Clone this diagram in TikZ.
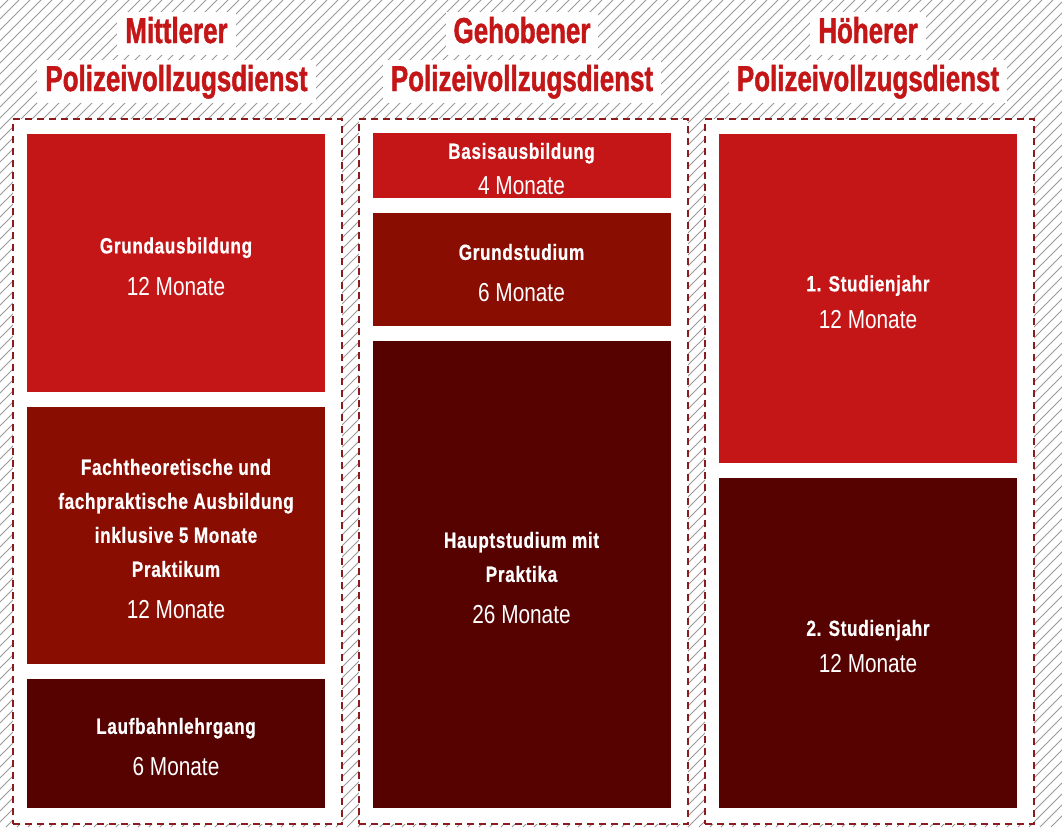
\documentclass[tikz,border=0pt]{standalone}
\usepackage{fontspec}
\newfontfamily\headfont{Liberation Sans}[FakeStretch=0.72, FakeBold=1.2]
\newfontfamily\boxfont{Liberation Sans}[FakeStretch=0.8]
\newfontfamily\titlefont{Liberation Sans}[FakeStretch=0.78, LetterSpace=3, FakeBold=0.6]
\usepackage{xcolor}
\usetikzlibrary{positioning}
\definecolor{polred}{HTML}{C41517}
\definecolor{polbrown}{HTML}{8A0D02}
\definecolor{poldark}{HTML}{560200}
\definecolor{dashred}{HTML}{8E1B1B}
\newcommand{\monate}[1]{{\fontsize{26}{34}\selectfont #1}}
\newcommand{\stitle}[1]{{\titlefont\bfseries\rule{0pt}{23pt}#1}}

\begin{document}
\begin{tikzpicture}[x=1pt, y=-1pt,
  node distance=15pt,
  hatch/.style={draw=gray!80, line width=0.9pt},
  frame/.style={draw=dashred, fill=white, dash pattern=on 7pt off 5pt, line width=2pt, anchor=north west, minimum width=329pt, minimum height=705pt},
  head/.style={fill=white, text=polred, font=\headfont\bfseries\fontsize{36}{40}\selectfont, inner xsep=8pt, inner ysep=4pt, text height=27pt, text depth=8pt},
  stage/.style={minimum width=298pt, inner sep=0pt, outer sep=0pt, anchor=north, text=white, align=center, font=\boxfont\fontsize{22}{34}\selectfont}
]
  \useasboundingbox (0,0) rectangle (1062,827);
  % hatched background
  \begin{scope}
    \clip (0,0) rectangle (1062,827);
    \foreach \i in {-830,-819,...,1062}
      \draw[hatch] (\i,827) -- ++(827,-827);
  \end{scope}

  % columns
  \node[frame] (mittel) at (12,118) {};
  \node[frame] (gehoben) at (358,118) {};
  \node[frame] (hoeher) at (704,118) {};

  % headings
  \node[head] (mittelA) at (176.5,33.5) {Mittlerer};
  \node[head] (mittelB) at (176.5,81.5) {Polizeivollzugsdienst};
  \node[head] (gehobenA) at (522,33.5) {Gehobener};
  \node[head] (gehobenB) at (522,81.5) {Polizeivollzugsdienst};
  \node[head] (hoeherA) at (868,33.5) {Höherer};
  \node[head] (hoeherB) at (868,81.5) {Polizeivollzugsdienst};

  % Mittlerer Dienst
  \node[stage, fill=polred, minimum height=258pt] (grund) at (176,134)
    {\stitle{Grundausbildung}\\[8pt]\monate{12 Monate}};
  \node[stage, fill=polbrown, minimum height=257pt, below=of grund] (fach)
    {\stitle{Fachtheoretische und}\\\stitle{fachpraktische Ausbildung}\\\stitle{inklusive 5 Monate}\\\stitle{Praktikum}\\[8pt]\monate{12 Monate}};
  \node[stage, fill=poldark, minimum height=129pt, below=of fach] (laufbahn)
    {\stitle{Laufbahnlehrgang}\\[8pt]\monate{6 Monate}};

  % Gehobener Dienst
  \node[stage, fill=polred, minimum height=65pt] (basis) at (521.5,133)
    {\stitle{Basisausbildung}\\[2pt]\monate{4 Monate}};
  \node[stage, fill=polbrown, minimum height=113pt, below=of basis] (grundst)
    {\stitle{Grundstudium}\\[8pt]\monate{6 Monate}};
  \node[stage, fill=poldark, minimum height=467pt, below=of grundst] (hauptst)
    {\stitle{Hauptstudium mit}\\\stitle{Praktika}\\[8pt]\monate{26 Monate}};

  % Hoeherer Dienst
  \node[stage, fill=polred, minimum height=329pt] (jahr1) at (868,134)
    {\stitle{1. Studienjahr}\\[3pt]\monate{12 Monate}};
  \node[stage, fill=poldark, minimum height=330pt, below=of jahr1] (jahr2)
    {\stitle{2. Studienjahr}\\[3pt]\monate{12 Monate}};
\end{tikzpicture}
\end{document}
